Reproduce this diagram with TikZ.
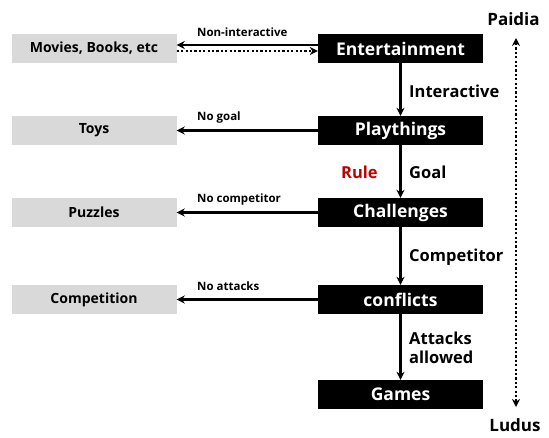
\documentclass[tikz,border=0pt]{standalone}
\usepackage{fontspec}
\setmainfont{Open Sans}
\usetikzlibrary{arrows.meta}
\definecolor{boxgray}{HTML}{D9D9D9}
\definecolor{rulered}{HTML}{C00000}
\begin{document}
\begin{tikzpicture}[x=1pt,y=-1pt,
  graybox/.style={fill=boxgray,minimum width=165pt,minimum height=29pt,inner sep=0pt,font=\fontsize{14}{16}\selectfont\bfseries},
  blackbox/.style={fill=black,text=white,minimum width=165pt,minimum height=29pt,inner sep=0pt,font=\fontsize{17.5}{20}\selectfont\bfseries},
  biglabel/.style={anchor=west,inner sep=0pt,font=\fontsize{16.5}{20}\selectfont\bfseries},
  smalllabel/.style={anchor=west,inner sep=0pt,font=\fontsize{11.5}{13}\selectfont\bfseries},
  arr/.style={line width=2.3pt,-{Stealth[length=8pt,width=8pt]}},
  dotline/.style={line width=2.5pt,dash pattern=on 2.2pt off 2.2pt},
  dotarr/.style={dotline,-{Stealth[length=8pt,width=8pt]}}
]
\useasboundingbox (0,0) rectangle (549,437);
\fill[white] (0,0) rectangle (549,437);
% left boxes
\node[graybox] (movies) at (94,48.5) {Movies, Books, etc};
\node[graybox] (toys) at (94,130.5) {Toys};
\node[graybox] (puzzles) at (94,212.5) {Puzzles};
\node[graybox] (competition) at (94,299.5) {Competition};
% main boxes
\node[blackbox] (ent) at (400.5,48.5) {Entertainment};
\node[blackbox] (play) at (400.5,130.5) {Playthings};
\node[blackbox] (chal) at (400.5,212.5) {Challenges};
\node[blackbox] (conf) at (400.5,299.5) {conflicts};
\node[blackbox] (games) at (400.5,394.5) {Games};
% vertical arrows
\draw[arr] (ent) -- (play);
\draw[arr] (play) -- (chal);
\draw[arr] (chal) -- (conf);
\draw[arr] (conf) -- (games);
% side arrows
\draw[arr] ([yshift=3.5pt]ent.west) -- ([yshift=3.5pt]movies.east);
\draw[dotarr] ([yshift=-2.5pt]movies.east) -- ([yshift=-2.5pt]ent.west);
\draw[arr] (play) -- (toys);
\draw[arr] (chal) -- (puzzles);
\draw[arr] (conf) -- (competition);
% small labels
\node[smalllabel] (lni) at (197,32) {Non-interactive};
\node[smalllabel] (lng) at (197,118) {No goal};
\node[smalllabel] (lnc) at (197,200) {No competitor};
\node[smalllabel] (lna) at (197,286) {No attacks};
% big labels
\node[biglabel] (linter) at (409,91) {Interactive};
\node[biglabel] (lgoal) at (409,172) {Goal};
\node[biglabel,text=rulered] (lrule) at (341,172) {Rule};
\node[biglabel] (lcomp) at (409,257) {Competitor};
\node[biglabel,align=left] (lattack) at (409,347.5) {Attacks\\[-1pt]allowed};
% Paidia / Ludus
\node[inner sep=0pt,anchor=base,font=\fontsize{17}{20}\selectfont\bfseries] (paidia) at (513.5,25) {Paidia};
\node[inner sep=0pt,anchor=base,font=\fontsize{17}{20}\selectfont\bfseries] (ludus) at (515,431.5) {Ludus};
\coordinate (ptop) at (516,38);
\coordinate (pbot) at (516,407);
\draw[dotline,{Stealth[length=8pt,width=8pt]}-{Stealth[length=8pt,width=8pt]}] (ptop) -- (pbot);
\end{tikzpicture}
\end{document}
